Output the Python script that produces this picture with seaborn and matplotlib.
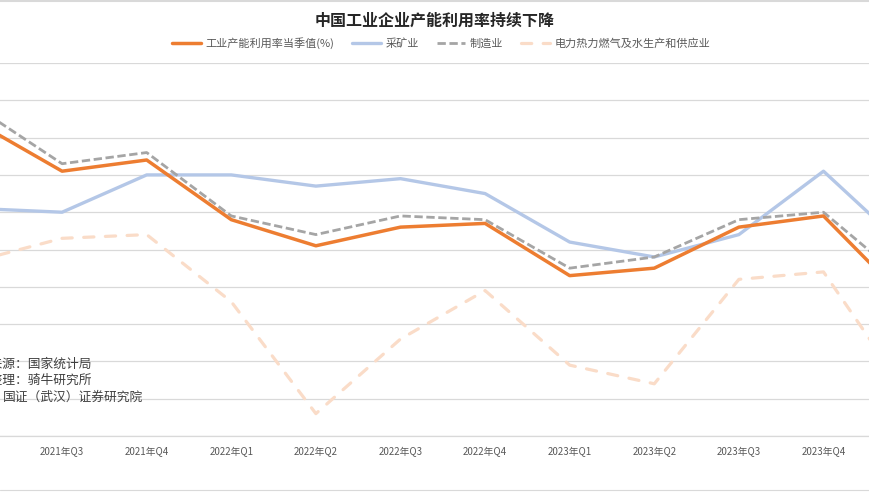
import matplotlib
matplotlib.use("Agg")
import matplotlib.pyplot as plt
import seaborn as sns
import pandas as pd
from matplotlib.lines import Line2D

quarters = ["2021年Q2", "2021年Q3", "2021年Q4", "2022年Q1", "2022年Q2", "2022年Q3",
            "2022年Q4", "2023年Q1", "2023年Q2", "2023年Q3", "2023年Q4", "2024年Q1"]
total = [78.4, 77.1, 77.4, 75.8, 75.1, 75.6, 75.7, 74.3, 74.5, 75.6, 75.9, 73.6]
mining = [76.1, 76.0, 77.0, 77.0, 76.7, 76.9, 76.5, 75.2, 74.8, 75.4, 77.1, 75.0]
manufacturing = [78.8, 77.3, 77.6, 75.9, 75.4, 75.9, 75.8, 74.5, 74.8, 75.8, 76.0, 74.1]
utilities = [74.7, 75.3, 75.4, 73.6, 70.6, 72.6, 73.9, 71.9, 71.4, 74.2, 74.4, 71.1]

series_names = ["工业产能利用率当季值(%)", "采矿业", "制造业", "电力热力燃气及水生产和供应业"]

sns.set_theme(style="white")
plt.rcParams["font.family"] = ["Noto Sans CJK SC", "DejaVu Sans"]

fig = plt.figure(figsize=(8.7, 4.92), dpi=100)
# plot area is wider than the picture (cropped chart)
ax = fig.add_axes([-0.0745, 0.1138, 1.1669, 0.7581])

df = pd.DataFrame({"idx": range(len(quarters)), "total": total, "mining": mining,
                   "manufacturing": manufacturing, "utilities": utilities})

peach = "#FADCC8"
sns.lineplot(data=df, x="idx", y="utilities", ax=ax, color=peach, linewidth=2.3)
ax.lines[-1].set_dashes((3.2, 3.6))
ax.lines[-1].set_dash_capstyle("round")
sns.lineplot(data=df, x="idx", y="mining", ax=ax, color="#B4C7E7", linewidth=2.4)
sns.lineplot(data=df, x="idx", y="manufacturing", ax=ax, color="#A5A5A5", linewidth=2.0)
ax.lines[-1].set_dashes((3.0, 1.3))
sns.lineplot(data=df, x="idx", y="total", ax=ax, color="#ED7D31", linewidth=2.5)

ax.set_xlim(-0.5, len(quarters) - 0.5)
ax.set_ylim(70, 80)
ax.set_yticks(range(70, 81))
ax.set_yticklabels([])
ax.set_xticks(range(len(quarters)))
ax.set_xticklabels(quarters, fontsize=7, color="#595959")
ax.tick_params(axis="x", length=0, pad=8)
ax.tick_params(axis="y", length=0)
ax.set_xlabel("")
ax.set_ylabel("")
ax.grid(axis="y", color="#D9D9D9", linewidth=0.9)
ax.set_axisbelow(True)
for side in ["top", "left", "right"]:
    ax.spines[side].set_visible(False)
ax.spines["bottom"].set_color("#D9D9D9")
ax.spines["bottom"].set_linewidth(0.9)

fig.text(0.5, 0.958, "中国工业企业产能利用率持续下降", ha="center", va="center",
         fontsize=11.5, fontweight="bold", color="#262626")

handles = [
    Line2D([], [], color="#ED7D31", linewidth=2.5),
    Line2D([], [], color="#B4C7E7", linewidth=2.4),
    Line2D([], [], color="#A5A5A5", linewidth=2.0, dashes=(3.0, 1.3)),
    Line2D([], [], color=peach, linewidth=2.3, dashes=(3.2, 3.6), dash_capstyle="round"),
]
fig.legend(handles, series_names, loc="center", bbox_to_anchor=(0.507, 0.912), ncol=4,
           frameon=False, fontsize=8, handlelength=2.6, handletextpad=0.4,
           columnspacing=1.6, labelcolor="#595959")

src_lines = ["数据来源：国家统计局", "数据整理：骑牛研究所"]
for i, s in enumerate(src_lines):
    fig.text(-35 / 870, 1 - (364 + 16.5 * i) / 492, s, ha="left", va="center",
             fontsize=9.2, color="#404040")
fig.text(3 / 870, 1 - 397 / 492, "国证（武汉）证券研究院", ha="left", va="center",
         fontsize=9.2, color="#404040")

fig.add_artist(Line2D([0, 1], [1 - 490 / 492] * 2, color="#D9D9D9", linewidth=0.8))
fig.add_artist(Line2D([0, 1], [1 - 1 / 492] * 2, color="#D9D9D9", linewidth=1.5))

fig.savefig("out.png", dpi=100)
